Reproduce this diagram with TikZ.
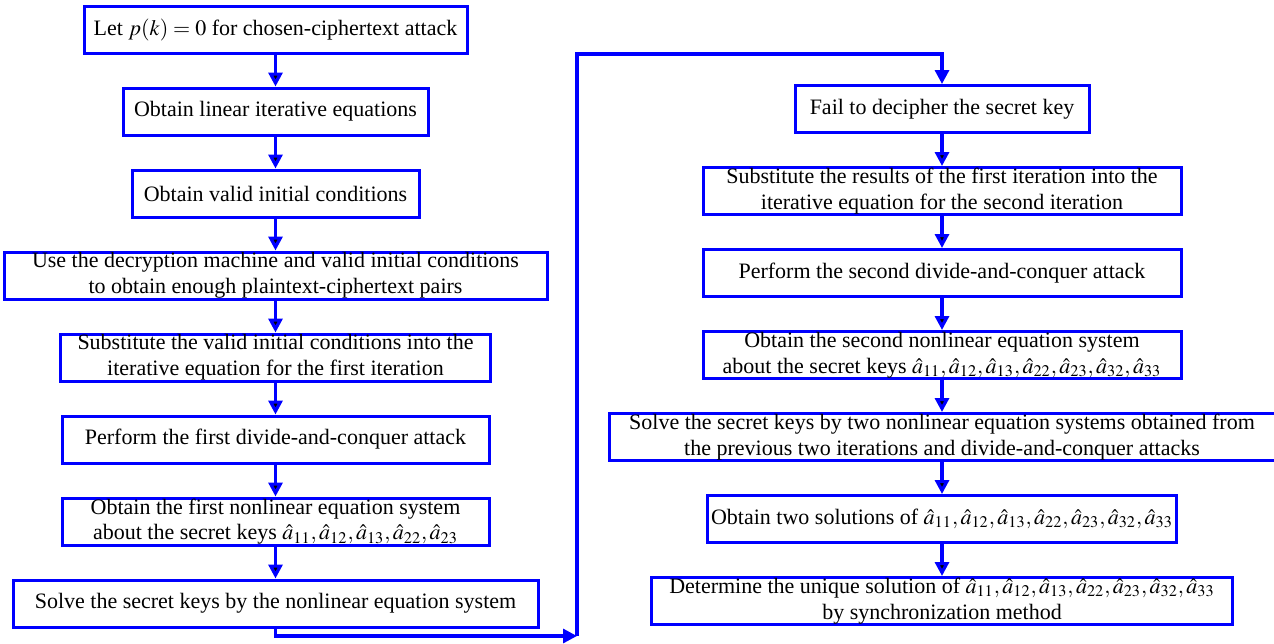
\documentclass[tikz,border=0pt]{standalone}
\usepackage{mathptmx}
\usepackage[no-math]{fontspec}
\newfontfamily\tnr{Liberation Serif}
\usetikzlibrary{arrows.meta,positioning}
\tikzset{>={Triangle[length=7pt,width=7pt]},node distance=16pt}
\tikzset{block/.style={draw=blue,line width=1.5pt,fill=white,minimum height=23.5pt,
        inner xsep=2pt,inner ysep=0pt,align=center,font=\tnr\fontsize{11}{12.8}\selectfont}}
\tikzset{flow/.style={draw=blue,line width=1.6pt,->}}

\begin{document}
\begin{tikzpicture}[x=0.5pt,y=-0.5pt]
    \useasboundingbox (0,0) rectangle (1274,643);
    % first iteration
    \node[block,minimum width=191.5pt] (n1) at (275.5,29.5) {Let $p(k)=0$ for chosen-ciphertext attack};
    \node[block,minimum width=152.5pt] (n2) [below=of n1] {Obtain linear iterative equations};
    \node[block,minimum width=143.5pt] (n3) [below=of n2] {Obtain valid initial conditions};
    \node[block,minimum width=271.5pt] (n4) [below=of n3] {Use the decryption machine and valid initial conditions\\ to obtain enough plaintext-ciphertext pairs};
    \node[block,minimum width=215pt] (n5) [below=of n4] {Substitute the valid initial conditions into the\\ iterative equation for the first iteration};
    \node[block,minimum width=213.5pt] (n6) [below=of n5] {Perform the first divide-and-conquer attack};
    \node[block,minimum width=213.5pt] (n7) [below=of n6] {Obtain the first nonlinear equation system\\ about the secret keys $\hat{a}_{11},\hat{a}_{12},\hat{a}_{13},\hat{a}_{22},\hat{a}_{23}$};
    \node[block,minimum width=262.5pt] (n8) [below=of n7] {Solve the secret keys by the nonlinear equation system};
    % second iteration
    \node[block,minimum width=147pt] (n9) at (942,109) {Fail to decipher the secret key};
    \node[block,minimum width=239pt] (n10) [below=of n9] {Substitute the results of the first iteration into the\\ iterative equation for the second iteration};
    \node[block,minimum width=239pt] (n11) [below=of n10] {Perform the second divide-and-conquer attack};
    \node[block,minimum width=239pt] (n12) [below=of n11] {Obtain the second nonlinear equation system\\ about the secret keys $\hat{a}_{11},\hat{a}_{12},\hat{a}_{13},\hat{a}_{22},\hat{a}_{23},\hat{a}_{32},\hat{a}_{33}$};
    \node[block,minimum width=333pt] (n13) [below=of n12] {Solve the secret keys by two nonlinear equation systems obtained from\\ the previous two iterations and divide-and-conquer attacks};
    \node[block,minimum width=234pt] (n14) [below=of n13] {Obtain two solutions of $\hat{a}_{11},\hat{a}_{12},\hat{a}_{13},\hat{a}_{22},\hat{a}_{23},\hat{a}_{32},\hat{a}_{33}$};
    \node[block,minimum width=290.5pt] (n15) [below=of n14] {Determine the unique solution of $\hat{a}_{11},\hat{a}_{12},\hat{a}_{13},\hat{a}_{22},\hat{a}_{23},\hat{a}_{32},\hat{a}_{33}$\\ by synchronization method};
    \coordinate (low) at (577,636);
    \coordinate (high) at (577,54);
    \path[flow]
        (n1) edge (n2)
        (n2) edge (n3)
        (n3) edge (n4)
        (n4) edge (n5)
        (n5) edge (n6)
        (n6) edge (n7)
        (n7) edge (n8)
        (n9) edge (n10)
        (n10) edge (n11)
        (n11) edge (n12)
        (n12) edge (n13)
        (n13) edge (n14)
        (n14) edge (n15)
    ;
    \draw[flow] (n8.south) |- (low);
    \draw[flow] (low) -- (high) -| (n9.north);
\end{tikzpicture}
\end{document}
